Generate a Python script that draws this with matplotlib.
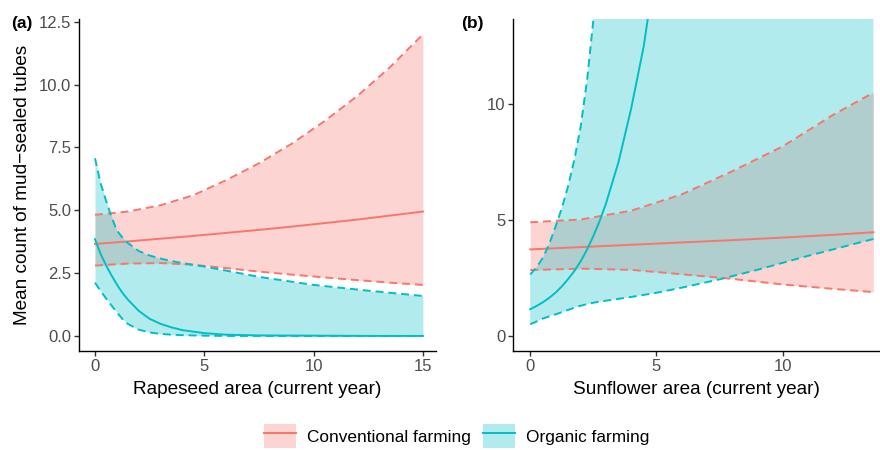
import numpy as np
import matplotlib
matplotlib.use('Agg')
import matplotlib.pyplot as plt
from matplotlib.patches import Patch
from matplotlib.lines import Line2D
from matplotlib.legend_handler import HandlerTuple

plt.rcParams['font.family'] = ['Liberation Sans', 'DejaVu Sans']
plt.rcParams['axes.linewidth'] = 1.0

CONV = '#F8766D'
ORG = '#00BFC4'

# ---- panel (a): rapeseed area ----
a_conv_x = [0, 1.5, 3, 4.5, 6, 7.5, 9, 10.5, 12, 13.5, 15]
a_conv_mean = [3.66, 3.76, 3.87, 3.98, 4.10, 4.22, 4.35, 4.49, 4.63, 4.79, 4.95]
a_conv_lo = [2.80, 2.88, 2.90, 2.83, 2.70, 2.56, 2.44, 2.33, 2.22, 2.12, 2.03]
a_conv_hi = [4.82, 4.95, 5.20, 5.60, 6.20, 6.87, 7.65, 8.55, 9.55, 10.70, 12.00]

a_org_x = [0, 0.25, 0.5, 0.75, 1, 1.25, 1.5, 2, 2.5, 3, 3.5, 4, 5, 6, 7.5, 10, 12.5, 15]
a_org_mean = [3.85, 3.28, 2.82, 2.42, 2.05, 1.72, 1.45, 1.00, 0.68, 0.48, 0.34, 0.23,
              0.11, 0.05, 0.02, 0.01, 0.0, 0.0]
a_org_lo = [2.12, 1.80, 1.50, 1.22, 0.94, 0.68, 0.48, 0.25, 0.14, 0.08, 0.05, 0.03,
            0.01, 0.0, 0.0, 0.0, 0.0, 0.0]
a_org_hi = [7.07, 6.10, 5.40, 4.75, 4.20, 3.92, 3.70, 3.38, 3.20, 3.08, 2.98, 2.90,
            2.76, 2.60, 2.35, 2.03, 1.80, 1.59]

# ---- panel (b): sunflower area ----
b_conv_x = [0, 2, 4, 6, 8, 10, 12, 13.6]
b_conv_mean = [3.73, 3.83, 3.93, 4.03, 4.13, 4.24, 4.36, 4.47]
b_conv_lo = [2.84, 2.90, 2.85, 2.66, 2.46, 2.22, 2.03, 1.89]
b_conv_hi = [4.90, 5.02, 5.40, 6.10, 7.10, 8.17, 9.53, 10.49]

b_org_x = [0, 0.25, 0.5, 0.75, 1, 1.25, 1.5, 1.75, 2, 2.25, 2.5, 2.75, 3, 3.5, 4,
           4.5, 5, 6, 7.5, 9, 10, 11, 12, 13.6]
b_org_mean = [1.15, 1.29, 1.45, 1.64, 1.86, 2.13, 2.45, 2.80, 3.22, 3.72, 4.30, 4.95,
              5.70, 7.50, 9.80, 12.50, 16.20, 28.0, 60.0, 130.0, 220.0, 370.0, 620.0, 1400.0]
b_org_lo = [0.50, 0.62, 0.75, 0.84, 0.93, 1.02, 1.12, 1.22, 1.30, 1.37, 1.43, 1.48,
            1.52, 1.60, 1.68, 1.77, 1.86, 2.08, 2.44, 2.85, 3.15, 3.45, 3.73, 4.18]
b_org_hi = [2.65, 2.95, 3.37, 3.95, 4.70, 5.50, 6.45, 7.60, 9.03, 11.0, 13.6, 16.0,
            19.5, 28.0, 40.0, 58.0, 80.0, 150.0, 450.0, 1300.0, 2500.0, 5000.0, 9000.0, 25000.0]

fig = plt.figure(figsize=(8.8, 4.5), dpi=100)
ax1 = fig.add_axes([0.0898, 0.22, 0.4057, 0.737])
ax2 = fig.add_axes([0.583, 0.22, 0.417, 0.737])

LW = 1.4
DASH = (4.1, 2.5)


def draw(ax, x, mean, lo, hi, col):
    ax.fill_between(x, lo, hi, color=col, alpha=0.3, linewidth=0)
    ax.plot(x, mean, color=col, lw=LW)
    ax.plot(x, lo, color=col, lw=LW, dashes=DASH)
    ax.plot(x, hi, color=col, lw=LW, dashes=DASH)


draw(ax1, a_conv_x, a_conv_mean, a_conv_lo, a_conv_hi, CONV)
draw(ax1, a_org_x, a_org_mean, a_org_lo, a_org_hi, ORG)
draw(ax2, b_conv_x, b_conv_mean, b_conv_lo, b_conv_hi, CONV)
draw(ax2, b_org_x, b_org_mean, b_org_lo, b_org_hi, ORG)

ax1.set_xlim(-0.73, 15.6)
ax1.set_ylim(-0.6, 12.6)
ax1.set_xticks([0, 5, 10, 15])
ax1.set_yticks([0, 2.5, 5, 7.5, 10, 12.5])
ax1.set_yticklabels(['0.0', '2.5', '5.0', '7.5', '10.0', '12.5'])
ax1.set_xlabel('Rapeseed area (current year)', fontsize=13.7, color='black', labelpad=5)
ax1.set_ylabel('Mean count of mud\u2212sealed tubes', fontsize=13.7, color='black', labelpad=6)

ax2.set_xlim(-0.68, 13.86)
ax2.set_ylim(-0.65, 13.65)
ax2.set_xticks([0, 5, 10])
ax2.set_yticks([0, 5, 10])
ax2.set_xlabel('Sunflower area (current year)', fontsize=13.7, color='black', labelpad=5)

for ax in (ax1, ax2):
    ax.spines['top'].set_visible(False)
    ax.spines['right'].set_visible(False)
    ax.tick_params(length=3.5, width=1, color='#333333', labelsize=12,
                   labelcolor='#4D4D4D', pad=2)

fig.text(0.013, 0.947, '(a)', fontsize=12.5, fontweight='bold', va='center')
fig.text(0.524, 0.947, '(b)', fontsize=12.5, fontweight='bold', va='center')

handles = [
    (Patch(facecolor=CONV, alpha=0.3, edgecolor='none'), Line2D([], [], color=CONV, lw=LW)),
    (Patch(facecolor=ORG, alpha=0.3, edgecolor='none'), Line2D([], [], color=ORG, lw=LW)),
]
fig.legend(handles, ['Conventional farming', 'Organic farming'],
           handler_map={tuple: HandlerTuple(ndivide=1, pad=0)},
           loc='center', bbox_to_anchor=(0.519, 0.031), ncol=2, frameon=False,
           fontsize=12.4, handlelength=1.86, handleheight=1.7, columnspacing=0.7,
           handletextpad=0.64, borderpad=0.2)

fig.savefig('out.png', dpi=100)
